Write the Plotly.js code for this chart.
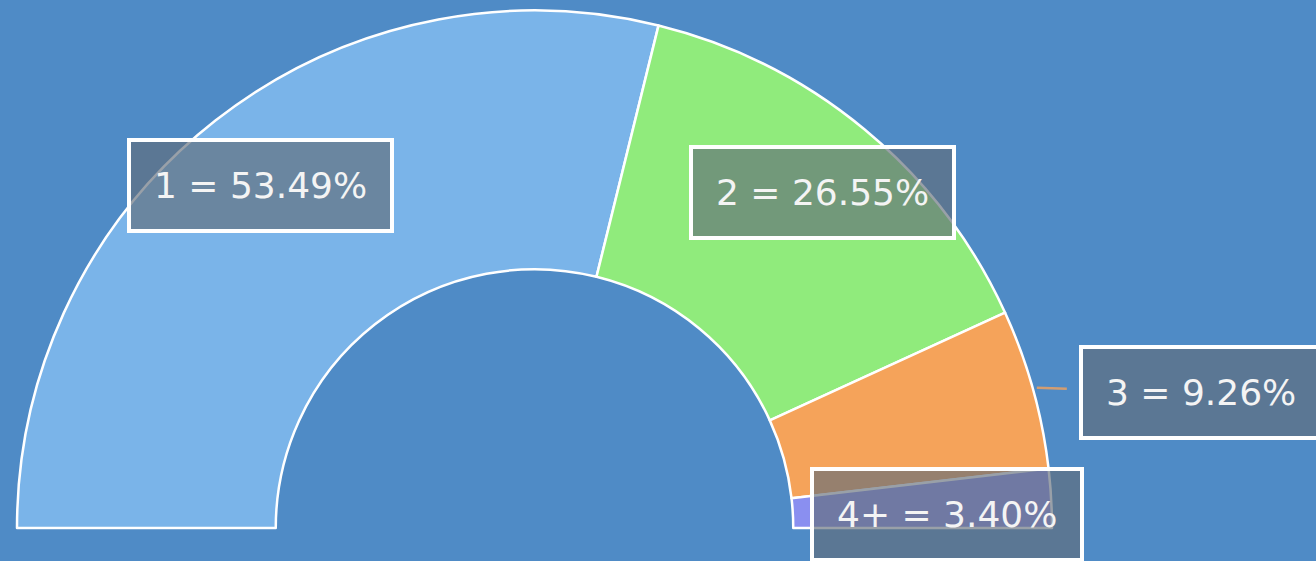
<!DOCTYPE html>
<html>
<head>
<meta charset="utf-8">
<script src="https://cdn.plot.ly/plotly-3.0.1.min.js"></script>
<style>
    html, body { margin: 0; padding: 0; overflow: hidden; background: #4f8bc6; }
    #chart { width: 1316px; height: 1056px; }
</style>
</head>
<body>
<div id="chart"></div>
<script>
// Chart data
const categories = ['1', '2', '3', '4+'];
const shares = [53.49, 26.55, 9.26, 3.40];
const sliceColors = ['#7ab4e9', '#90eb7c', '#f5a35a', '#8a8ff0'];

// Geometry of the half donut (pixels), the lower half is pushed off screen
const W = 1316, H = 1056;
const CX = 534.5, R = 517.5;

function drawChart() {
    const total = shares.reduce((a, b) => a + b, 0);

    // Hidden slice fills the bottom half so the visible slices span 180 degrees
    const values = shares.concat([total]);
    const colors = sliceColors.concat(['rgba(0,0,0,0)']);
    const lineColors = shares.map(() => '#ffffff').concat(['rgba(0,0,0,0)']);

    const data = [{
        type: 'pie',
        values: values,
        labels: categories.concat(['hidden']),
        sort: false,
        direction: 'clockwise',
        rotation: -90,
        hole: 0.5,
        textinfo: 'none',
        hoverinfo: 'none',
        domain: {x: [(CX - R) / W, (CX + R) / W], y: [0, 1]},
        marker: {
            colors: colors,
            line: {color: lineColors, width: 2.5}
        }
    }];

    // Label boxes placed at each slice's mid angle
    const labelRadius = [440, 442, R + 4, 413];
    const labelXShift = [-3, 6, 0, 0];
    const labelYShift = [-4, -5, 0, -10];
    const annotations = [];
    let cum = 0;
    shares.forEach((v, i) => {
        const mid = Math.PI - (cum + v / 2) / total * Math.PI;
        cum += v;
        const r = labelRadius[i];
        const ann = {
            xref: 'paper', yref: 'paper',
            x: (CX + r * Math.cos(mid)) / W,
            y: 0.5 + r * Math.sin(mid) / H,
            xanchor: 'center',
            yanchor: 'middle',
            text: `${categories[i]} = ${v.toFixed(2)}%`,
            font: {family: 'DejaVu Sans', size: 36, color: '#f4f4f4'},
            bgcolor: 'rgba(98,109,122,0.65)',
            bordercolor: '#ffffff',
            borderwidth: 4,
            borderpad: 23,
            showarrow: false,
            xshift: labelXShift[i],
            yshift: labelYShift[i]
        };
        if (i === 2) {
            // pulled outside with a leader line
            ann.showarrow = true;
            ann.arrowhead = 0;
            ann.arrowwidth = 2.5;
            ann.arrowcolor = 'rgba(225,160,105,0.9)';
            ann.startstandoff = 14;
            ann.ax = 164;
            ann.ay = 5;
        }
        annotations.push(ann);
    });

    const layout = {
        width: W,
        height: H,
        margin: {l: 0, r: 0, t: 0, b: 0},
        paper_bgcolor: '#4f8bc6',
        showlegend: false,
        annotations: annotations
    };

    Plotly.newPlot('chart', data, layout, {staticPlot: true});
}

drawChart();
</script>
</body>
</html>
